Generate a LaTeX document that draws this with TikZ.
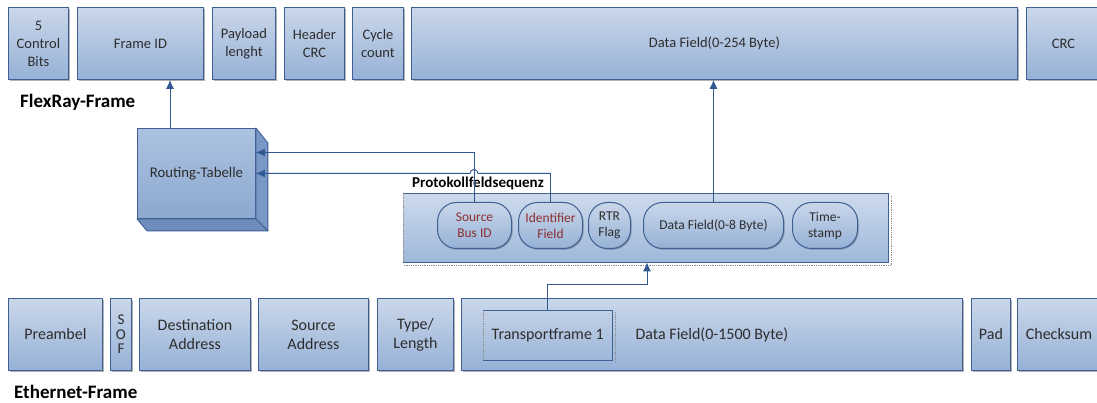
\documentclass[tikz,border=0pt]{standalone}
\usepackage{fontspec}
\setmainfont{Carlito}
\usetikzlibrary{arrows.meta,shadows,calc}

\definecolor{boxtop}{RGB}{202,215,234}
\definecolor{boxbot}{RGB}{150,177,214}
\definecolor{boxline}{RGB}{62,96,146}
\definecolor{arrowblue}{RGB}{48,88,145}
\definecolor{txt}{RGB}{45,45,45}
\definecolor{redtxt}{RGB}{140,48,48}
\definecolor{cubetop}{RGB}{172,194,224}
\definecolor{cubebot}{RGB}{140,168,208}
\definecolor{cubeside}{RGB}{122,152,198}
\definecolor{cubefloor}{RGB}{110,141,188}
\definecolor{seqtop}{RGB}{206,219,237}
\definecolor{seqbot}{RGB}{158,183,217}

\tikzset{
  field/.style={rectangle, draw=boxline, line width=0.9pt,
    top color=boxtop, bottom color=boxbot, text=txt, align=center,
    inner sep=0pt, anchor=north west,
    drop shadow={shadow xshift=1.5pt, shadow yshift=-1.5pt, fill=black, opacity=0.3},
    font=\fontsize{14.5}{18}\selectfont},
  efield/.style={field, font=\fontsize{16}{19}\selectfont},
  pill/.style={rectangle, rounded corners=19pt, draw=boxline, line width=1pt,
    top color=boxtop, bottom color=boxbot, text=txt, align=center,
    inner sep=0pt, anchor=north west, minimum height=46pt,
    drop shadow={shadow xshift=1.2pt, shadow yshift=-1.2pt, fill=black, opacity=0.25},
    font=\fontsize{13.5}{16}\selectfont},
  cubefront/.style={rectangle, draw=boxline, line width=0.9pt,
    top color=cubetop, bottom color=cubebot, text=txt, inner sep=0pt,
    anchor=north west, font=\fontsize{14.8}{18}\selectfont},
  framelabel/.style={anchor=west, inner sep=0pt, text=black,
    font=\fontsize{19}{22}\bfseries\selectfont},
  seqlabel/.style={anchor=west, inner sep=0pt, text=black,
    font=\fontsize{15}{18}\bfseries\selectfont},
  arr/.style={draw=arrowblue, line width=0.9pt,
    -{Latex[length=9pt,width=8pt]}},
}

\begin{document}
\begin{tikzpicture}[x=1pt,y=-1pt]
\useasboundingbox (0,0) rectangle (1097,403);
\fill[white] (0,0) rectangle (1097,403);

% FlexRay frame fields
\node[field, minimum width=60pt,  minimum height=72pt] (ctrl)  at (8,7)    {5\\Control\\Bits};
\node[field, minimum width=126pt, minimum height=72pt] (fid)   at (77,7)   {Frame ID};
\node[field, minimum width=63pt,  minimum height=72pt] (pay)   at (212,7)  {Payload\\lenght};
\node[field, minimum width=60pt,  minimum height=72pt] (hcrc)  at (284,7)  {Header\\CRC};
\node[field, minimum width=51pt,  minimum height=72pt] (cyc)   at (352,7)  {Cycle\\count};
\node[field, minimum width=606pt, minimum height=72pt] (fdata) at (411,7)  {Data Field(0-254 Byte)};
\node[field, minimum width=74pt,  minimum height=72pt] (crc)   at (1026,7) {CRC};
\node[framelabel] (flexlbl) at (20,102) {FlexRay-Frame};

% Routing table drawn as a cuboid
\node[cubefront, minimum width=118pt, minimum height=90pt] (rt) at (137,128) {Routing-Tabelle};
\filldraw[fill=cubeside, draw=boxline, line width=0.9pt, line join=round]
  (rt.north east) -- ($(rt.north east)+(12,15)$) -- ($(rt.south east)+(12,12)$)
  -- (rt.south east) -- cycle;
\filldraw[fill=cubefloor, draw=boxline, line width=0.9pt, line join=round]
  (rt.south west) -- ($(rt.south west)+(10,12)$) -- ($(rt.south east)+(12,12)$)
  -- (rt.south east) -- cycle;

% Protocol field sequence container
\node[anchor=north west, minimum width=485pt, minimum height=69pt, inner sep=0pt,
      top color=seqtop, bottom color=seqbot] (seq) at (403,193) {};
\draw[black!45, densely dotted, line width=0.8pt]
  ($(seq.north east)+(3,3)$) -- ($(seq.south east)+(3,3)$) -- ($(seq.south west)+(0,3)$);
\draw[black!45, densely dotted, line width=0.8pt] (seq.north west) -- (seq.south west);
\draw[boxline, line width=0.9pt] (seq.north west) -- (seq.north east) -- (seq.south east) -- (seq.south west);
\node[seqlabel] (seqlbl) at (412,183) {Protokollfeldsequenz};

\node[pill, minimum width=74pt,  text=redtxt] (sbid) at (437,202) {Source\\Bus ID};
\node[pill, minimum width=64pt,  text=redtxt] (idf)  at (518,202) {Identifier\\Field};
\node[pill, minimum width=42pt]               (rtr)  at (588,202) {RTR\\Flag};
\node[pill, minimum width=140pt]              (d8)   at (643,202) {Data Field(0-8 Byte)};
\node[pill, minimum width=65pt]               (ts)   at (792,202) {Time-\\stamp};

% Ethernet frame fields
\node[efield, minimum width=94pt,  minimum height=72pt] (pre)   at (8,298)    {Preambel};
\node[efield, minimum width=21pt,  minimum height=72pt,
      font=\fontsize{15}{14.5}\selectfont]              (sof)   at (110,298)  {S\\O\\F};
\node[efield, minimum width=111pt, minimum height=72pt] (dst)   at (139,298)  {Destination\\Address};
\node[efield, minimum width=110pt, minimum height=72pt] (src)   at (258,298)  {Source\\Address};
\node[efield, minimum width=76pt,  minimum height=72pt] (typ)   at (377,298)  {Type/\\Length};
\node[efield, minimum width=501pt, minimum height=72pt] (edata) at (461,298)  {Data Field(0-1500 Byte)};
\node[efield, minimum width=39pt,  minimum height=72pt] (pad)   at (971,298)  {Pad};
\node[efield, minimum width=83pt,  minimum height=72pt] (chk)   at (1017,298) {Checksum};
\node[framelabel] (ethlbl) at (14,392) {Ethernet-Frame};

% Transport frame inside the Ethernet data field
\node[anchor=north west, minimum width=129pt, minimum height=50pt, inner sep=0pt,
      text=txt, font=\fontsize{16}{19}\selectfont] (tf) at (483,310) {Transportframe 1};
\draw[black!45, densely dotted, line width=0.8pt] (tf.north west) -- (tf.south west);
\draw[black!45, densely dotted, line width=0.8pt]
  ($(tf.north east)+(3,2)$) -- ($(tf.south east)+(3,2)$);
\draw[boxline, line width=0.9pt] (tf.north west) -- (tf.north east) -- (tf.south east) -- (tf.south west);

% Connectors
\draw[arr] ([xshift=33pt]rt.north west) -- ([xshift=33pt]rt.north west |- fid.south);
\coordinate (hop) at ([xshift=37pt]sbid.north west);
\draw[arr] (hop) |- ([yshift=21pt]rt.east);
\draw[arr] (idf.north) |- ($(hop |- rt.east)+(4,0)$)
  arc[start angle=0, end angle=180, radius=4pt] -- (rt.east);
\draw[arr] (d8.north) -- (d8.north |- fdata.south);
\draw[arr] ([xshift=64pt]tf.north west) -- ++(0,-26) -| ([xshift=244pt]seq.south west);
\end{tikzpicture}
\end{document}
